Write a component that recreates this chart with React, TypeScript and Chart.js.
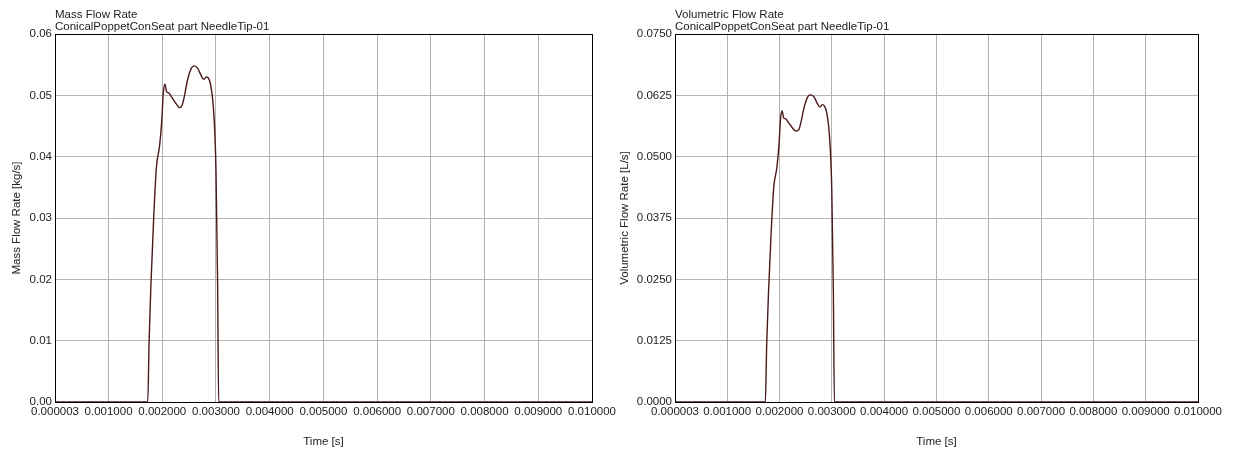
import { useEffect, useRef } from "react";
import { Chart, registerables } from "chart.js";

Chart.register(...registerables);

// ---- data ----
const TIME = [
  0.000003, 0.00173, 0.001755, 0.00179, 0.00184, 0.00189, 0.00195, 0.00199, 0.00202, 0.00205,
  0.00208, 0.00212, 0.00217, 0.00226, 0.00232, 0.00237, 0.00241, 0.00247, 0.00254, 0.00259,
  0.00266, 0.00272, 0.00277, 0.00282, 0.00286, 0.0029, 0.00294, 0.00297, 0.00299, 0.003,
  0.00303, 0.00305, 0.01,
];

const MASS_FLOW = [
  0, 0, 0.01, 0.0194, 0.03, 0.0382, 0.0418, 0.0458, 0.0505, 0.0518,
  0.0506, 0.0504, 0.0498, 0.0486, 0.048, 0.0484, 0.0498, 0.0525, 0.0544, 0.0548,
  0.0544, 0.0533, 0.0526, 0.053, 0.0528, 0.0517, 0.0492, 0.0454, 0.0411, 0.0378,
  0.0194, 0, 0,
];

const VOLUME_FLOW = [
  0, 0, 0.0114, 0.0222, 0.0343, 0.0437, 0.0478, 0.0523, 0.0577, 0.0593,
  0.0579, 0.0577, 0.057, 0.0557, 0.0552, 0.0555, 0.057, 0.06, 0.0622, 0.0626,
  0.0622, 0.0609, 0.0601, 0.0606, 0.0603, 0.0591, 0.0562, 0.0519, 0.047, 0.0432,
  0.0222, 0, 0,
];

const X_TICKS = [0.000003, 0.001, 0.002, 0.003, 0.004, 0.005, 0.006, 0.007, 0.008, 0.009, 0.01];
const MASS_TICKS = [0, 0.01, 0.02, 0.03, 0.04, 0.05, 0.06];
const VOLUME_TICKS = [0, 0.0125, 0.025, 0.0375, 0.05, 0.0625, 0.075];

const FONT_FAMILY = "'Liberation Sans', Arial, sans-serif";
const FONT_SIZE = 11.5;
const TEXT_COLOR = "#222";

type PanelProps = {
  title: string;
  subtitle: string;
  yTitle: string;
  values: number[];
  yTicks: number[];
  decimals: number;
  yAxisWidth: number;
  yTitlePad: number;
  padRight: number;
};

function Panel(p: PanelProps) {
  const ref = useRef<HTMLCanvasElement | null>(null);

  useEffect(() => {
    if (!ref.current) return;
    const points = TIME.map((t, i) => ({ x: t, y: p.values[i] }));

    const frame = {
      id: "frame",
      afterDraw(chart: any) {
        const { ctx, chartArea: a } = chart;
        ctx.save();
        ctx.strokeStyle = "#000";
        ctx.lineWidth = 1;
        ctx.strokeRect(
          Math.round(a.left) + 0.5,
          Math.round(a.top) + 0.5,
          Math.round(a.right - a.left),
          Math.round(a.bottom - a.top)
        );
        ctx.fillStyle = TEXT_COLOR;
        ctx.font = `${FONT_SIZE}px ${FONT_FAMILY}`;
        ctx.textAlign = "left";
        ctx.textBaseline = "alphabetic";
        ctx.fillText(p.title, a.left, 18);
        ctx.fillText(p.subtitle, a.left, 30);
        ctx.restore();
      },
    };

    const chart = new Chart(ref.current, {
      type: "line",
      data: {
        datasets: [
          {
            data: points,
            borderColor: "#4a1a1a",
            borderWidth: 1.4,
            pointRadius: 0,
            cubicInterpolationMode: "monotone",
            fill: false,
          },
        ],
      },
      options: {
        animation: false,
        responsive: false,
        devicePixelRatio: 1,
        layout: { padding: { left: 0, right: p.padRight, top: 34, bottom: 0 } },
        plugins: {
          legend: { display: false },
          title: { display: false },
          tooltip: { enabled: false },
        },
        scales: {
          x: {
            type: "linear",
            min: X_TICKS[0],
            max: X_TICKS[X_TICKS.length - 1],
            afterBuildTicks: (axis: any) => {
              axis.ticks = X_TICKS.map((v) => ({ value: v }));
            },
            afterFit: (axis: any) => {
              axis.height = 48;
              axis.paddingLeft = 0;
              axis.paddingRight = 0;
            },
            grid: { color: "#b4b4b4", drawTicks: false, lineWidth: 1 },
            border: { display: false },
            ticks: {
              padding: 3,
              maxRotation: 0,
              autoSkip: false,
              color: TEXT_COLOR,
              font: { family: FONT_FAMILY, size: FONT_SIZE },
              callback: (v: any) => Number(v).toFixed(6),
            },
            title: {
              display: true,
              text: "Time [s]",
              color: TEXT_COLOR,
              font: { family: FONT_FAMILY, size: FONT_SIZE },
              padding: { top: 0, bottom: 1 },
            },
          },
          y: {
            type: "linear",
            min: p.yTicks[0],
            max: p.yTicks[p.yTicks.length - 1],
            afterBuildTicks: (axis: any) => {
              axis.ticks = p.yTicks.map((v) => ({ value: v }));
            },
            afterFit: (axis: any) => {
              axis.width = p.yAxisWidth;
            },
            grid: { color: "#b4b4b4", drawTicks: false, lineWidth: 1 },
            border: { display: false },
            ticks: {
              padding: 3,
              autoSkip: false,
              color: TEXT_COLOR,
              font: { family: FONT_FAMILY, size: FONT_SIZE },
              callback: (v: any) => Number(v).toFixed(p.decimals),
            },
            title: {
              display: true,
              text: p.yTitle,
              color: TEXT_COLOR,
              font: { family: FONT_FAMILY, size: FONT_SIZE },
              padding: { top: p.yTitlePad, bottom: 0 },
            },
          },
        },
      },
      plugins: [frame],
    } as any);

    return () => chart.destroy();
  }, []);

  return <canvas ref={ref} width={618} height={450} style={{ display: "block" }} />;
}

export default function App() {
  return (
    <div style={{ position: "absolute", left: 0, top: 0, width: 1236, height: 450, background: "#fff" }}>
      <div style={{ position: "absolute", left: 0, top: 0, width: 618, height: 450 }}>
        <Panel
          title="Mass Flow Rate"
          subtitle="ConicalPoppetConSeat part NeedleTip-01"
          yTitle="Mass Flow Rate [kg/s]"
          values={MASS_FLOW}
          yTicks={MASS_TICKS}
          decimals={2}
          yAxisWidth={55}
          yTitlePad={10}
          padRight={26}
        />
      </div>
      <div style={{ position: "absolute", left: 618, top: 0, width: 618, height: 450 }}>
        <Panel
          title="Volumetric Flow Rate"
          subtitle="ConicalPoppetConSeat part NeedleTip-01"
          yTitle="Volumetric Flow Rate [L/s]"
          values={VOLUME_FLOW}
          yTicks={VOLUME_TICKS}
          decimals={4}
          yAxisWidth={57}
          yTitlePad={0}
          padRight={38}
        />
      </div>
    </div>
  );
}
